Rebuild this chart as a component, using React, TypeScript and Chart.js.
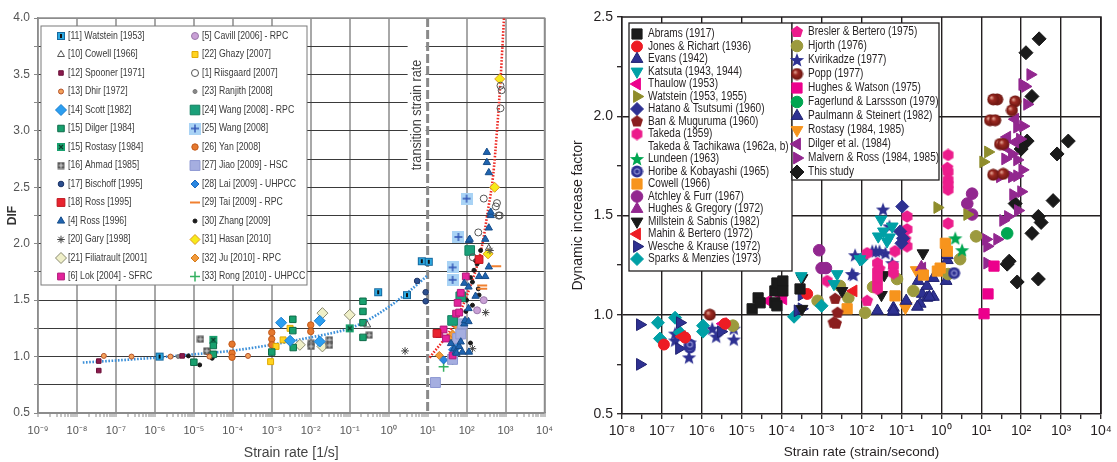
import React, { useEffect, useRef } from "react";
import { Chart, registerables } from "chart.js";
import { drawPoint } from "chart.js/helpers";

Chart.register(...registerables);

// Every point is [log10(strain rate), DIF]
type Pt = [number, number];

// ---------------- LEFT CHART DATA ----------------
const leftDecades = [-9, -8, -7, -6, -5, -4, -3, -2, -1, 0, 1, 2, 3, 4];
const leftYTicks = [0.5, 0.75, 1.0, 1.25, 1.5, 1.75, 2.0, 2.25, 2.5, 2.75, 3.0, 3.25, 3.5, 3.75, 4.0];

const L11_watstein: Pt[] = [[-5.88, 1.0], [-0.27, 1.57], [0.47, 1.545], [0.85, 1.845], [1.03, 1.84]];
const L10_cowell: Pt[] = [[-0.55, 1.28], [2.57, 1.96]];
const L12_spooner: Pt[] = [[-7.44, 0.96], [-7.44, 0.876], [-5.3, 1.006]];
const L13_dhir: Pt[] = [[-7.31, 1.006], [-6.6, 1.0], [-5.6, 1.0], [-4.6, 1.0], [-3.61, 1.006]];
const L14_scott: Pt[] = [[-2.76, 1.3], [-2.53, 1.14], [-1.77, 1.317], [-1.77, 1.133]];
const L15_dilger: Pt[] = [[-5.0, 0.95], [-4.5, 1.098], [-4.5, 1.02], [-3.0, 1.04], [-2.46, 1.33], [-2.46, 1.23], [-2.45, 1.08], [-0.66, 1.49], [-0.66, 1.4], [-0.66, 1.3], [-0.66, 1.17]];
const L15_rostasy: Pt[] = [[-4.5, 1.148], [-1.0, 1.25]];
const L16_ahmad: Pt[] = [[-4.83, 1.154], [-4.67, 1.05], [-1.99, 1.118], [-1.99, 1.09], [-1.52, 1.148], [-1.52, 1.1], [-0.5, 1.19]];
const L17_bischoff: Pt[] = [[0.73, 1.67], [0.95, 1.57], [0.95, 1.49]];
const L18_ross: Pt[] = [[1.24, 1.205], [2.32, 1.86]];
const L4_ross: Pt[] = [[1.6, 1.116], [1.68, 1.07], [1.72, 1.04], [1.74, 1.03], [1.81, 1.09], [1.85, 1.13], [1.89, 1.04], [1.94, 1.29], [1.96, 1.32], [1.94, 1.65], [2.05, 1.31], [2.05, 1.426], [2.05, 1.617], [2.06, 1.04], [2.06, 2.03], [2.08, 2.04], [2.23, 1.535], [2.32, 1.71], [2.48, 1.71], [2.48, 2.04], [2.57, 1.795], [2.57, 2.14], [2.62, 2.25], [2.62, 2.28], [2.57, 2.63], [2.52, 2.72], [2.52, 2.81]];
const L20_gary: Pt[] = [[0.42, 1.05], [2.15, 1.07], [2.49, 1.39], [2.6, 1.94]];
const L21_filiatrault: Pt[] = [[-2.28, 1.104], [-1.7, 1.385], [-1.7, 1.09], [-1.0, 1.37]];
const L6_lok: Pt[] = [[1.3, 1.2], [1.41, 1.24], [1.47, 1.16], [1.64, 1.01], [1.73, 1.38], [1.77, 1.476], [1.81, 1.39], [1.85, 1.565], [1.98, 1.71]];
const L5_cavill: Pt[] = [[2.27, 1.41], [2.44, 1.5]];
const L22_ghazy: Pt[] = [[-3.03, 0.955], [-2.89, 1.09], [-2.71, 1.148], [-2.53, 1.25]];
const L1_riisgaard: Pt[] = [[2.16, 1.88], [2.3, 2.1], [2.44, 2.4], [2.75, 2.33], [2.78, 2.36], [2.82, 2.25], [2.85, 2.25], [2.87, 3.2], [2.87, 3.4], [2.9, 3.36]];
const L23_ranjith: Pt[] = [[-5.4, 1.0], [-4.85, 1.148]];
const L24_wang: Pt[] = [[1.64, 1.32], [1.85, 1.53], [2.08, 1.94]];
const L25_wang: Pt[] = [[1.64, 1.68], [1.64, 1.79], [1.79, 2.06], [2.0, 2.4]];
const L26_yan: Pt[] = [[-4.65, 1.044], [-4.02, 1.11], [-4.02, 1.03], [-4.02, 0.994], [-3.0, 1.213], [-3.0, 1.154], [-3.0, 1.104], [-2.0, 1.28], [-2.0, 1.222]];
const L27_jiao: Pt[] = [[1.2, 0.77], [1.64, 0.975], [1.77, 1.16], [1.85, 1.2], [1.89, 1.29]];
const L28_lai: Pt[] = [[1.41, 0.97], [1.64, 1.06], [1.75, 1.08]];
const L29_tai: Pt[] = [[1.89, 1.03], [2.4, 1.6], [2.4, 1.63], [2.76, 1.8]];
const L30_zhang: Pt[] = [[-5.14, 1.006], [-4.85, 0.926], [-4.53, 0.985], [1.9, 1.2], [1.98, 1.4], [2.0, 1.5], [2.1, 1.12], [2.1, 1.7], [2.15, 1.455], [2.15, 1.66], [2.19, 1.765], [2.23, 1.85], [2.27, 1.82], [2.3, 1.6], [2.32, 1.545], [2.36, 1.94]];
const L31_hasan: Pt[] = [[2.55, 1.91], [2.72, 2.5], [2.85, 3.46]];
const L32_ju: Pt[] = [[1.3, 1.01], [1.56, 1.16], [1.64, 1.2], [1.77, 1.26]];
const L33_rong: Pt[] = [[1.41, 0.91], [1.64, 0.97], [1.81, 1.19]];

const L_blueFit: Pt[] = [[-7.85, 0.947], [-7, 0.965], [-6, 0.99], [-5, 1.02], [-4, 1.053], [-3, 1.105], [-2, 1.17], [-1.5, 1.205], [-1, 1.25], [-0.5, 1.33], [0, 1.44], [0.5, 1.57], [1.0, 1.72]];
const L_redFit: Pt[] = [[1.05, 0.99], [1.63, 1.26], [2.06, 1.59], [2.39, 1.97], [2.55, 2.3], [2.68, 2.6], [2.78, 3.0], [2.87, 3.45], [2.96, 4.0]];

// ---------------- RIGHT CHART DATA ----------------
const rightDecades = [-8, -7, -6, -5, -4, -3, -2, -1, 0, 1, 2, 3, 4];
const rightYTicks = [0.5, 0.75, 1.0, 1.25, 1.5, 1.75, 2.0, 2.25, 2.5];

const R_abrams: Pt[] = [[-4.74, 1.03], [-4.59, 1.085], [-4.17, 1.12], [-4.12, 1.16], [-3.97, 1.17], [-4.17, 1.06], [-3.54, 1.13], [-4.54, 1.06], [-4.12, 1.045], [-3.97, 1.12]];
const R_jones: Pt[] = [[-6.95, 0.85], [-6.42, 0.885], [-5.42, 0.955], [-3.36, 1.105]];
const R_evans: Pt[] = [[-1.2, 1.02], [-0.3, 1.09]];
const R_katsuta: Pt[] = [[-3.51, 1.195], [-2.61, 1.205], [-2.69, 1.155], [-1.51, 1.48], [-1.58, 1.395], [-1.36, 1.37], [-1.23, 1.445], [-2.04, 1.28], [-1.45, 1.42], [-1.3, 1.39]];
const R_thaulow: Pt[] = [[-4.34, 1.07], [-3.96, 1.08], [-5.47, 0.955], [-4.05, 1.1]];
const R_watstein: Pt[] = [[-0.1, 1.54], [0.65, 1.505], [1.17, 1.82], [1.05, 1.77]];
const R_hatano: Pt[] = [[-0.98, 1.545], [-1.03, 1.42], [-0.96, 1.385], [-1.0, 1.36]];
const R_ban: Pt[] = [[-2.66, 1.08], [-2.6, 1.01], [-2.64, 0.955], [-2.7, 0.96]];
const R_takeda: Pt[] = [[-2.86, 1.17], [-1.86, 1.31], [-1.6, 1.26], [-1.6, 1.22], [-1.6, 1.16], [-1.16, 1.32], [-1.2, 1.245], [-1.2, 1.21], [-0.86, 1.495], [-0.86, 1.43], [-0.86, 1.345], [0.17, 1.72], [0.17, 1.68], [0.17, 1.63], [0.17, 1.46], [0.17, 1.805], [0.17, 1.655], [-1.6, 1.19], [-1.6, 1.13]];
const R_takedaTachikawa: Pt[] = [];
const R_lundeen: Pt[] = [[0.35, 1.385], [0.52, 1.325]];
const R_horibe: Pt[] = [[-6.3, 0.835], [-6.3, 0.85], [0.32, 1.21]];
const R_cowell: Pt[] = [[-1.16, 1.095], [-2.36, 1.03], [0.1, 1.36], [0.15, 1.32], [-0.03, 1.235], [-0.1, 1.22], [-0.45, 1.2]];
const R_atchley: Pt[] = [[-3.06, 1.325], [-3.0, 1.235], [-2.89, 1.235], [0.77, 1.61], [0.65, 1.56], [0.77, 1.505]];
const R_hughesGregory: Pt[] = [[-0.5, 1.24]];
const R_millstein: Pt[] = [[-1.43, 1.2], [-2.49, 1.12], [-3.49, 1.185], [-3.49, 1.03], [-0.46, 1.31], [-1.5, 1.1]];
const R_mahin: Pt[] = [[-2.2, 1.12], [-6.5, 0.89]];
const R_wesche: Pt[] = [[-7.55, 0.95], [-7.55, 0.75], [-6.57, 0.83], [-6.55, 0.96], [-5.52, 0.915], [-3.6, 1.02], [-3.5, 1.1], [-3.5, 1.03]];
const R_sparks: Pt[] = [[-7.1, 0.96], [-7.05, 0.88], [-6.67, 0.985], [-6.55, 0.91], [-5.97, 0.945], [-5.97, 0.915], [-3.69, 0.99], [-3.0, 1.045], [-2.0, 1.28]];
const R_bresler: Pt[] = [[-1.86, 1.07], [-1.55, 1.23], [-0.9, 1.38], [0.15, 1.74]];
const R_hjorth: Pt[] = [[-3.1, 1.07], [-2.54, 1.145], [-2.33, 1.085], [-1.91, 1.01], [-1.11, 1.18], [-1.71, 1.14], [-0.7, 1.12], [0.17, 1.205], [0.47, 1.28], [0.87, 1.395], [-5.22, 0.945]];
const R_kvirikadze: Pt[] = [[-6.67, 0.905], [-6.67, 0.87], [-6.3, 0.86], [-6.32, 0.785], [-5.74, 0.93], [-5.64, 0.89], [-5.2, 0.93], [-5.2, 0.875], [-1.46, 1.53], [-1.64, 1.32], [-2.24, 1.205], [-2.16, 1.3], [-1.4, 1.31], [-1.23, 1.26], [-1.3, 1.445], [-1.73, 1.32], [-1.55, 1.32], [-2.2, 1.2], [-6.5, 0.9]];
const R_popp: Pt[] = [[1.4, 2.085], [1.3, 2.085], [1.85, 2.075], [1.77, 2.03], [1.22, 1.98], [1.35, 1.98], [1.47, 1.86], [1.55, 1.86], [1.3, 1.705], [1.55, 1.71], [-5.8, 1.0]];
const R_hughesWatson: Pt[] = [[1.32, 1.245], [1.17, 1.105], [1.07, 1.005]];
const R_fagerlund: Pt[] = [[1.65, 1.41]];
const R_paulmann: Pt[] = [[-1.6, 1.02], [-1.2, 1.035], [-1.2, 1.015], [-0.88, 1.07], [-0.58, 1.17], [-0.48, 1.105], [-0.36, 1.145], [-0.36, 1.085], [-0.2, 1.185], [-0.2, 1.09], [-0.53, 1.055], [0.15, 1.275], [0.12, 1.17], [-0.6, 1.04], [0.15, 1.3]];
const R_rostasy: Pt[] = [[-0.63, 1.225], [-0.88, 1.045], [-0.9, 1.035]];
const R_dilger: Pt[] = [[-0.48, 1.235], [1.85, 1.985], [1.65, 1.895], [1.6, 1.845], [1.85, 1.87]];
const R_malvern: Pt[] = [[2.23, 2.21], [2.03, 2.16], [2.1, 2.15], [2.15, 2.06], [1.9, 1.945], [2.05, 1.95], [1.97, 1.885], [1.77, 1.81], [1.6, 1.785], [1.77, 1.695], [2.03, 1.73], [1.47, 1.695], [1.8, 1.605], [1.92, 1.525], [1.67, 1.495], [1.55, 1.475], [1.4, 1.38], [1.12, 1.38], [1.15, 1.345], [1.15, 1.26], [1.9, 1.7], [2.0, 1.62], [1.9, 1.78]];
const R_thisStudy: Pt[] = [[2.45, 2.39], [2.12, 2.32], [2.27, 2.1], [2.15, 1.875], [2.0, 1.835], [2.9, 1.81], [3.18, 1.875], [1.85, 1.56], [2.43, 1.495], [2.5, 1.465], [2.27, 1.41], [2.8, 1.575], [1.65, 1.255], [1.7, 1.27], [1.9, 1.165], [2.43, 1.18]];

// ---------------- helpers ----------------
const SUP: Record<string, string> = { "-": "\u207B", "0": "\u2070", "1": "\u00B9", "2": "\u00B2", "3": "\u00B3", "4": "\u2074", "5": "\u2075", "6": "\u2076", "7": "\u2077", "8": "\u2078", "9": "\u2079" };
const powLabel = (e: number) => "10" + String(e).split("").map((c) => SUP[c]).join("");
const isDecade = (v: number) => Math.abs(Math.log10(v) - Math.round(Math.log10(v))) < 1e-6;
const toXY = (arr: Pt[]) => arr.map(([d, v]) => ({ x: Math.pow(10, d), y: v }));

const NARROW = "'Liberation Sans Narrow', 'Liberation Sans', Arial, sans-serif";
const SANS = "'Liberation Sans', Arial, Helvetica, sans-serif";

function sty(pointStyle: any, r: number, bg: string, border: string, bw = 1, rotation = 0) {
  return {
    pointStyle, pointRadius: r, pointHoverRadius: r, pointBackgroundColor: bg, pointBorderColor: border,
    pointBorderWidth: bw, pointRotation: rotation, backgroundColor: bg, borderColor: border,
  };
}
function pts(label: string, data: Pt[], style: any) {
  return { label, data: toXY(data), showLine: false, ...style };
}
function fit(data: Pt[], color: string) {
  return {
    label: "", data: toXY(data), showLine: true, borderColor: color, borderWidth: 2.6, borderDash: [1.6, 1.6],
    pointRadius: 0, pointHoverRadius: 0, fill: false, cubicInterpolationMode: "monotone",
  };
}

function makeMarkers() {
  const mk = (size: number, draw: (g: CanvasRenderingContext2D, c: number) => void) => {
    const cv = document.createElement("canvas");
    cv.width = size; cv.height = size;
    const g = cv.getContext("2d") as CanvasRenderingContext2D;
    draw(g, size / 2);
    return cv;
  };
  const poly = (g: CanvasRenderingContext2D, c: number, r: number, n: number, rot: number) => {
    g.beginPath();
    for (let i = 0; i < n; i++) {
      const a = rot + (i * 2 * Math.PI) / n;
      const px = c + r * Math.cos(a), py = c + r * Math.sin(a);
      if (i === 0) g.moveTo(px, py); else g.lineTo(px, py);
    }
    g.closePath();
  };
  const star = (g: CanvasRenderingContext2D, c: number, r1: number, r2: number) => {
    g.beginPath();
    for (let i = 0; i < 10; i++) {
      const a = -Math.PI / 2 + (i * Math.PI) / 5;
      const r = i % 2 ? r2 : r1;
      const px = c + r * Math.cos(a), py = c + 0.5 + r * Math.sin(a);
      if (i === 0) g.moveTo(px, py); else g.lineTo(px, py);
    }
    g.closePath();
  };
  return {
    watstein: mk(10, (g) => {
      g.fillStyle = "#2ca9e1"; g.fillRect(1, 1, 8, 8);
      g.strokeStyle = "#17699f"; g.lineWidth = 1; g.strokeRect(1.5, 1.5, 7, 7);
      g.fillStyle = "#111"; g.fillRect(4, 3, 2, 4);
    }),
    rostasy: mk(10, (g) => {
      g.fillStyle = "#18a06e"; g.fillRect(1, 1, 8, 8);
      g.strokeStyle = "#0b3d2a"; g.lineWidth = 1.2; g.beginPath();
      g.moveTo(3, 3); g.lineTo(7, 7); g.moveTo(7, 3); g.lineTo(3, 7); g.stroke();
    }),
    ahmad: mk(8, (g) => {
      g.fillStyle = "#5c5c5c"; g.fillRect(0.5, 0.5, 7, 7);
      g.strokeStyle = "#d8d8d8"; g.lineWidth = 1; g.beginPath();
      g.moveTo(4, 1.5); g.lineTo(4, 6.5); g.moveTo(1.5, 4); g.lineTo(6.5, 4); g.stroke();
    }),
    wang25: mk(12, (g) => {
      g.fillStyle = "#a9d3f5"; g.fillRect(0, 0, 12, 12);
      g.strokeStyle = "#2f53b4"; g.lineWidth = 1.4; g.beginPath();
      g.moveTo(6, 2); g.lineTo(6, 10); g.moveTo(2, 6); g.lineTo(10, 6); g.stroke();
    }),
    penDred: mk(14, (g, c) => { poly(g, c, 6.3, 5, -Math.PI / 2); g.fillStyle = "#8b1f1f"; g.fill(); }),
    penPink: mk(14, (g, c) => { poly(g, c, 6.3, 5, -Math.PI / 2); g.fillStyle = "#ec1c8c"; g.fill(); }),
    hexPink: mk(13, (g, c) => { poly(g, c, 6.2, 6, -Math.PI / 2); g.fillStyle = "#ec1c8c"; g.fill(); }),
    starGreen: mk(16, (g, c) => { star(g, c, 7.5, 3.2); g.fillStyle = "#00a651"; g.fill(); }),
    starNavy: mk(16, (g, c) => { star(g, c, 7.5, 3.2); g.fillStyle = "#2e3192"; g.fill(); }),
    sphere: mk(13, (g, c) => {
      const gr = g.createRadialGradient(c - 2, c - 2, 0.5, c, c, 6);
      gr.addColorStop(0, "#e0a090"); gr.addColorStop(0.35, "#9c2a22"); gr.addColorStop(1, "#6a1510");
      g.fillStyle = gr; g.beginPath(); g.arc(c, c, 6, 0, Math.PI * 2); g.fill();
    }),
    horibe: mk(13, (g, c) => {
      g.fillStyle = "#2e3192"; g.beginPath(); g.arc(c, c, 6, 0, Math.PI * 2); g.fill();
      g.strokeStyle = "#8a8cd0"; g.lineWidth = 1.2; g.beginPath(); g.arc(c, c, 2.6, 0, Math.PI * 2); g.stroke();
    }),
  };
}

// Draws a boxed legend from the chart's own datasets
function boxLegend(boxes: any[]) {
  return {
    id: "boxLegend",
    afterDraw(chart: any) {
      const ctx = chart.ctx as CanvasRenderingContext2D;
      for (const b of boxes) {
        ctx.save();
        ctx.setLineDash([]);
        ctx.fillStyle = "#ffffff";
        ctx.fillRect(b.x, b.y, b.w, b.h);
        ctx.strokeStyle = b.border; ctx.lineWidth = b.borderWidth;
        ctx.strokeRect(b.x, b.y, b.w, b.h);
        for (const col of b.columns) {
          col.items.forEach((di: number, i: number) => {
            const ds = chart.data.datasets[di];
            const cy = col.row0 + i * col.rowH;
            if (ds.pointStyle !== false) {
              ctx.save();
              ctx.fillStyle = ds.pointBackgroundColor;
              ctx.strokeStyle = ds.pointBorderColor;
              ctx.lineWidth = ds.pointBorderWidth;
              drawPoint(ctx, { pointStyle: ds.pointStyle, radius: ds.pointRadius, rotation: ds.pointRotation || 0, borderWidth: ds.pointBorderWidth } as any, col.mx, cy);
              ctx.restore();
            }
            ctx.save();
            ctx.fillStyle = b.color; ctx.font = b.font;
            ctx.textAlign = "left"; ctx.textBaseline = "middle";
            ctx.translate(col.tx, cy);
            ctx.scale(b.sx, 1);
            ctx.fillText(ds.label, 0, 0);
            ctx.restore();
          });
        }
        ctx.restore();
      }
    },
  };
}

const range = (a: number, b: number) => Array.from({ length: b - a + 1 }, (_, i) => a + i);

function leftConfig(M: any): any {
  const datasets = [
    pts("[11] Watstein [1953]", L11_watstein, sty(M.watstein, 4.5, "#2ca9e1", "#17699f")),
    pts("[10] Cowell [1966]", L10_cowell, sty("triangle", 4, "rgba(255,255,255,0)", "#555", 1)),
    pts("[12] Spooner [1971]", L12_spooner, sty("rect", 3.2, "#8b1a4e", "#6a1038")),
    pts("[13] Dhir [1972]", L13_dhir, sty("circle", 2.5, "#f3a15a", "#b5532a")),
    pts("[14] Scott [1982]", L14_scott, sty("rectRot", 5.5, "#2b9ef0", "#1a7fd0")),
    pts("[15] Dilger [1984]", L15_dilger, sty("rect", 4.6, "#18a06e", "#0d6b48")),
    pts("[15] Rostasy [1984]", L15_rostasy, sty(M.rostasy, 4.5, "#18a06e", "#0b3d2a")),
    pts("[16] Ahmad [1985]", L16_ahmad, sty(M.ahmad, 3.5, "#5c5c5c", "#5c5c5c")),
    pts("[17] Bischoff [1995]", L17_bischoff, sty("circle", 2.8, "#2c4f8f", "#1b3366")),
    pts("[18] Ross [1995]", L18_ross, sty("rect", 5.5, "#e8232f", "#c0141d")),
    pts("[4] Ross [1996]", L4_ross, sty("triangle", 4.2, "#1f64b0", "#164d8a")),
    pts("[20] Gary [1998]", L20_gary, sty("star", 3.8, "#444", "#444", 1)),
    pts("[21] Filiatrault [2001]", L21_filiatrault, sty("rectRot", 5.5, "#efefc8", "#8a8a70")),
    pts("[6] Lok [2004] - SFRC", L6_lok, sty("rect", 4.8, "#e3239b", "#b01a79")),
    pts("[5] Cavill [2006] - RPC", L5_cavill, sty("circle", 3.5, "#c9a0d6", "#9a78aa")),
    pts("[22] Ghazy [2007]", L22_ghazy, sty("rect", 4.2, "#ffd320", "#e0a800")),
    pts("[1] Riisgaard [2007]", L1_riisgaard, sty("circle", 3.5, "rgba(255,255,255,0)", "#555")),
    pts("[23] Ranjith [2008]", L23_ranjith, sty("circle", 2, "#888", "#777")),
    pts("[24] Wang [2008] - RPC", L24_wang, sty("rect", 6.8, "#1aa079", "#128060")),
    pts("[25] Wang [2008]", L25_wang, sty(M.wang25, 5, "#a9d3f5", "#2f53b4")),
    pts("[26] Yan [2008]", L26_yan, sty("circle", 3.2, "#e5782e", "#c25a1a")),
    pts("[27] Jiao [2009] - HSC", L27_jiao, sty("rect", 7, "#a5aee0", "#8d97d2")),
    pts("[28] Lai [2009] - UHPCC", L28_lai, sty("rectRot", 4, "#2a86e0", "#1a6ac0")),
    pts("[29] Tai [2009] - RPC", L29_tai, sty("line", 5, "#f08030", "#f08030", 2)),
    pts("[30] Zhang [2009]", L30_zhang, sty("circle", 2, "#1a1a1a", "#1a1a1a")),
    pts("[31] Hasan [2010]", L31_hasan, sty("rectRot", 5, "#f6ea1a", "#e09a20")),
    pts("[32] Ju [2010] - RPC", L32_ju, sty("rectRot", 4, "#f29a3a", "#d47a1a")),
    pts("[33] Rong [2010] - UHPCC", L33_rong, sty("cross", 5, "#34b060", "#34b060", 1.5)),
    fit(L_blueFit, "#3b8fd8"),
    fit(L_redFit, "#ee2b25"),
  ];

  const xTicks: number[] = [];
  leftDecades.forEach((e) => {
    xTicks.push(Math.pow(10, e));
    if (e < 4) for (let m = 2; m <= 9; m++) xTicks.push(m * Math.pow(10, e));
  });

  const decor = {
    id: "leftDecor",
    beforeDatasetsDraw(chart: any) {
      const { ctx, chartArea: a, scales } = chart;
      const xT = scales.x.getPixelForValue(10);
      ctx.save();
      ctx.strokeStyle = "#8c8c8c"; ctx.lineWidth = 1.5;
      ctx.beginPath(); ctx.moveTo(a.left, a.top); ctx.lineTo(a.right, a.top); ctx.lineTo(a.right, a.bottom); ctx.stroke();
      ctx.fillStyle = "#fff"; ctx.fillRect(xT - 20, a.top + 22, 18, 138);
      ctx.setLineDash([9, 3]); ctx.strokeStyle = "#8a8a8a"; ctx.lineWidth = 3;
      ctx.beginPath(); ctx.moveTo(xT, a.top); ctx.lineTo(xT, a.bottom); ctx.stroke();
      ctx.setLineDash([]);
      ctx.translate(xT - 10, a.top + 97); ctx.rotate(-Math.PI / 2); ctx.scale(0.9, 1);
      ctx.fillStyle = "#444"; ctx.font = "14px " + NARROW; ctx.textAlign = "center"; ctx.textBaseline = "middle";
      ctx.fillText("transition strain rate", 0, 0);
      ctx.restore();
    },
  };

  return {
    type: "scatter",
    data: { datasets },
    options: {
      responsive: false, animation: false, events: [],
      layout: { padding: { left: 0, right: 8, top: 18, bottom: 0 } },
      plugins: { legend: { display: false }, tooltip: { enabled: false } },
      scales: {
        x: {
          type: "logarithmic", min: 1e-9, max: 1e4,
          afterBuildTicks: (s: any) => { s.ticks = xTicks.map((v) => ({ value: v })); },
          afterFit: (s: any) => { s.height = 49; },
          ticks: {
            autoSkip: false, maxRotation: 0, minRotation: 0, padding: 7, color: "#555",
            font: { family: NARROW, size: 11 },
            callback: (v: number) => (isDecade(v) ? powLabel(Math.round(Math.log10(v))) : ""),
          },
          grid: {
            color: (c: any) => {
              const v = c.tick && c.tick.value;
              if (!v || !isDecade(v)) return "rgba(0,0,0,0)";
              const e = Math.round(Math.log10(v));
              return e === 1 ? "rgba(0,0,0,0)" : "#a8a8a8";
            },
            lineWidth: 2, tickColor: "#888", tickWidth: 1, tickLength: 4,
          },
          border: { color: "#8c8c8c", width: 1.5 },
          title: { display: true, text: "Strain rate [1/s]", color: "#444", font: { family: NARROW, size: 14 }, padding: { top: 0, bottom: 0 } },
        },
        y: {
          type: "linear", min: 0.5, max: 4.0,
          afterBuildTicks: (s: any) => { s.ticks = leftYTicks.map((v) => ({ value: v })); },
          afterFit: (s: any) => { s.width = 38; },
          ticks: {
            padding: 4, color: "#555", font: { family: NARROW, size: 12 },
            callback: (v: number) => (Math.round(v * 100) % 50 === 0 ? v.toFixed(1) : ""),
          },
          grid: {
            color: (c: any) => {
              const v = c.tick && c.tick.value;
              return v === 0.5 || v === 4.0 ? "#8c8c8c" : "#3a3a3a";
            },
            lineWidth: 1, tickColor: "#888", tickWidth: 1, tickLength: 4,
          },
          border: { color: "#8c8c8c", width: 1.5 },
          title: { display: true, text: "DIF", color: "#333", font: { family: NARROW, size: 12, weight: "bold" }, padding: { top: 5, bottom: 0 } },
        },
      },
    },
    plugins: [
      decor,
      boxLegend([
        {
          x: 41, y: 26, w: 266, h: 259, border: "#7a7a7a", borderWidth: 1, color: "#3a3a3a",
          font: "10.5px " + NARROW, sx: 0.83,
          columns: [
            { items: range(0, 13), mx: 61, tx: 68, row0: 36, rowH: 18.5 },
            { items: range(14, 27), mx: 195, tx: 202, row0: 36, rowH: 18.5 },
          ],
        },
      ]),
    ],
  };
}

function rightConfig(M: any): any {
  const navy = "#2e3192", navyB = "#1f2170", teal = "#00a0a6", mag = "#ec008c", olive = "#8f8d2c",
    olive2 = "#9c9a3e", purple = "#92278f", orange = "#f7941d", red = "#ed1c24", black = "#1a1a1a", green = "#00a651";
  const datasets = [
    pts("Abrams (1917)", R_abrams, sty("rect", 7.2, black, black)),
    pts("Jones & Richart (1936)", R_jones, sty("circle", 5.5, red, red)),
    pts("Evans (1942)", R_evans, sty("triangle", 6.8, navy, navyB)),
    pts("Katsuta (1943, 1944)", R_katsuta, sty("triangle", 6.8, teal, teal, 1, 180)),
    pts("Thaulow (1953)", R_thaulow, sty("triangle", 6.8, mag, mag, 1, -90)),
    pts("Watstein (1953, 1955)", R_watstein, sty("triangle", 6.8, olive, olive, 1, 90)),
    pts("Hatano & Tsutsumi (1960)", R_hatano, sty("rectRot", 6.5, navy, navy)),
    pts("Ban & Muguruma (1960)", R_ban, sty(M.penDred, 6, "#8b1f1f", "#8b1f1f")),
    pts("Takeda (1959)", R_takeda, sty(M.hexPink, 6, mag, mag)),
    { label: "Takeda & Tachikawa (1962a, b)", data: toXY(R_takedaTachikawa), showLine: false, pointStyle: false, pointRadius: 0 },
    pts("Lundeen (1963)", R_lundeen, sty(M.starGreen, 6, green, green)),
    pts("Horibe & Kobayashi (1965)", R_horibe, sty(M.horibe, 6, navy, navy)),
    pts("Cowell (1966)", R_cowell, sty("rect", 7.2, orange, orange)),
    pts("Atchley & Furr (1967)", R_atchley, sty("circle", 5.8, purple, purple)),
    pts("Hughes & Gregory (1972)", R_hughesGregory, sty("triangle", 6.8, purple, purple)),
    pts("Millstein & Sabnis (1982)", R_millstein, sty("triangle", 6.8, black, black, 1, 180)),
    pts("Mahin & Bertero (1972)", R_mahin, sty("triangle", 6.8, red, red, 1, -90)),
    pts("Wesche & Krause (1972)", R_wesche, sty("triangle", 6.8, navy, navyB, 1, 90)),
    pts("Sparks & Menzies (1973)", R_sparks, sty("rectRot", 6.5, teal, teal)),
    pts("Bresler & Bertero (1975)", R_bresler, sty(M.penPink, 6, mag, mag)),
    pts("Hjorth (1976)", R_hjorth, sty("circle", 5.8, olive2, olive2)),
    pts("Kvirikadze (1977)", R_kvirikadze, sty(M.starNavy, 6, navy, navy)),
    pts("Popp (1977)", R_popp, sty(M.sphere, 6, "#8b2323", "#8b2323")),
    pts("Hughes & Watson (1975)", R_hughesWatson, sty("rect", 7.2, mag, mag)),
    pts("Fagerlund & Larssson (1979)", R_fagerlund, sty("circle", 5.8, green, green)),
    pts("Paulmann & Steinert (1982)", R_paulmann, sty("triangle", 6.8, navy, navyB)),
    pts("Rostasy (1984, 1985)", R_rostasy, sty("triangle", 6.8, orange, orange, 1, 180)),
    pts("Dilger et al. (1984)", R_dilger, sty("triangle", 6.8, purple, purple, 1, -90)),
    pts("Malvern & Ross (1984, 1985)", R_malvern, sty("triangle", 6.8, purple, purple, 1, 90)),
    pts("This study", R_thisStudy, sty("rectRot", 7, black, black)),
  ];

  const xTicks: number[] = [];
  rightDecades.forEach((e) => {
    xTicks.push(Math.pow(10, e));
    if (e < 4) xTicks.push(Math.pow(10, e + 0.5));
  });

  const frame = {
    id: "rightFrame",
    beforeDatasetsDraw(chart: any) {
      const { ctx, chartArea: a } = chart;
      ctx.save();
      ctx.strokeStyle = "#231f20"; ctx.lineWidth = 1.5;
      ctx.beginPath(); ctx.moveTo(a.left, a.top); ctx.lineTo(a.right, a.top); ctx.lineTo(a.right, a.bottom); ctx.stroke();
      ctx.restore();
    },
  };

  return {
    type: "scatter",
    data: { datasets },
    options: {
      responsive: false, animation: false, events: [],
      layout: { padding: { left: 0, right: 16, top: 17, bottom: 0 } },
      plugins: { legend: { display: false }, tooltip: { enabled: false } },
      scales: {
        x: {
          type: "logarithmic", min: 1e-8, max: 1e4,
          afterBuildTicks: (s: any) => { s.ticks = xTicks.map((v) => ({ value: v })); },
          afterFit: (s: any) => { s.height = 48; },
          ticks: {
            autoSkip: false, maxRotation: 0, minRotation: 0, padding: 4, color: "#231f20",
            font: { family: SANS, size: 14 },
            callback: (v: number) => (isDecade(v) ? powLabel(Math.round(Math.log10(v))) : ""),
          },
          grid: {
            color: (c: any) => {
              const v = c.tick && c.tick.value;
              return v && isDecade(v) ? "#231f20" : "rgba(0,0,0,0)";
            },
            lineWidth: 1.4, tickColor: "#231f20", tickWidth: 1.3, tickLength: 5,
          },
          border: { color: "#231f20", width: 1.5 },
          title: { display: true, text: "Strain rate (strain/second)", color: "#231f20", font: { family: SANS, size: 13.5 }, padding: { top: 0, bottom: 2 } },
        },
        y: {
          type: "linear", min: 0.5, max: 2.5,
          afterBuildTicks: (s: any) => { s.ticks = rightYTicks.map((v) => ({ value: v })); },
          afterFit: (s: any) => { s.width = 62; },
          ticks: {
            padding: 4, color: "#231f20", font: { family: SANS, size: 14 },
            callback: (v: number) => (Math.round(v * 100) % 50 === 0 ? v.toFixed(1) : ""),
          },
          grid: {
            color: (c: any) => {
              const v = c.tick && c.tick.value;
              return v === 1.0 || v === 1.5 || v === 2.0 ? "#231f20" : "rgba(0,0,0,0)";
            },
            lineWidth: 1.4, tickColor: "#231f20", tickWidth: 1.3, tickLength: 5,
          },
          border: { color: "#231f20", width: 1.5 },
          title: { display: true, text: "Dynamic increase factor", color: "#231f20", font: { family: SANS, size: 14 }, padding: { top: 10, bottom: 0 } },
        },
      },
    },
    plugins: [
      frame,
      boxLegend([
        {
          x: 69, y: 23, w: 163, h: 248, border: "#231f20", borderWidth: 1.3, color: "#231f20",
          font: "12px " + SANS, sx: 0.84,
          columns: [{ items: range(0, 18), mx: 77, tx: 88, row0: 34, rowH: 12.5 }],
        },
        {
          x: 232, y: 23, w: 147, h: 157, border: "#231f20", borderWidth: 1.3, color: "#231f20",
          font: "12px " + SANS, sx: 0.84,
          columns: [{ items: range(19, 29), mx: 237, tx: 248, row0: 32, rowH: 14 }],
        },
      ]),
    ],
  };
}

export default function App() {
  const leftRef = useRef<HTMLCanvasElement>(null);
  const rightRef = useRef<HTMLCanvasElement>(null);
  useEffect(() => {
    const M = makeMarkers();
    const c1 = new Chart(leftRef.current as HTMLCanvasElement, leftConfig(M));
    const c2 = new Chart(rightRef.current as HTMLCanvasElement, rightConfig(M));
    return () => { c1.destroy(); c2.destroy(); };
  }, []);
  return (
    <div style={{ position: "fixed", left: 0, top: 0, width: 1117, height: 462, background: "#fff" }}>
      <canvas ref={leftRef} width={560} height={462} style={{ position: "absolute", left: 0, top: 0, width: 560, height: 462 }} />
      <canvas ref={rightRef} width={557} height={462} style={{ position: "absolute", left: 560, top: 0, width: 557, height: 462 }} />
    </div>
  );
}
